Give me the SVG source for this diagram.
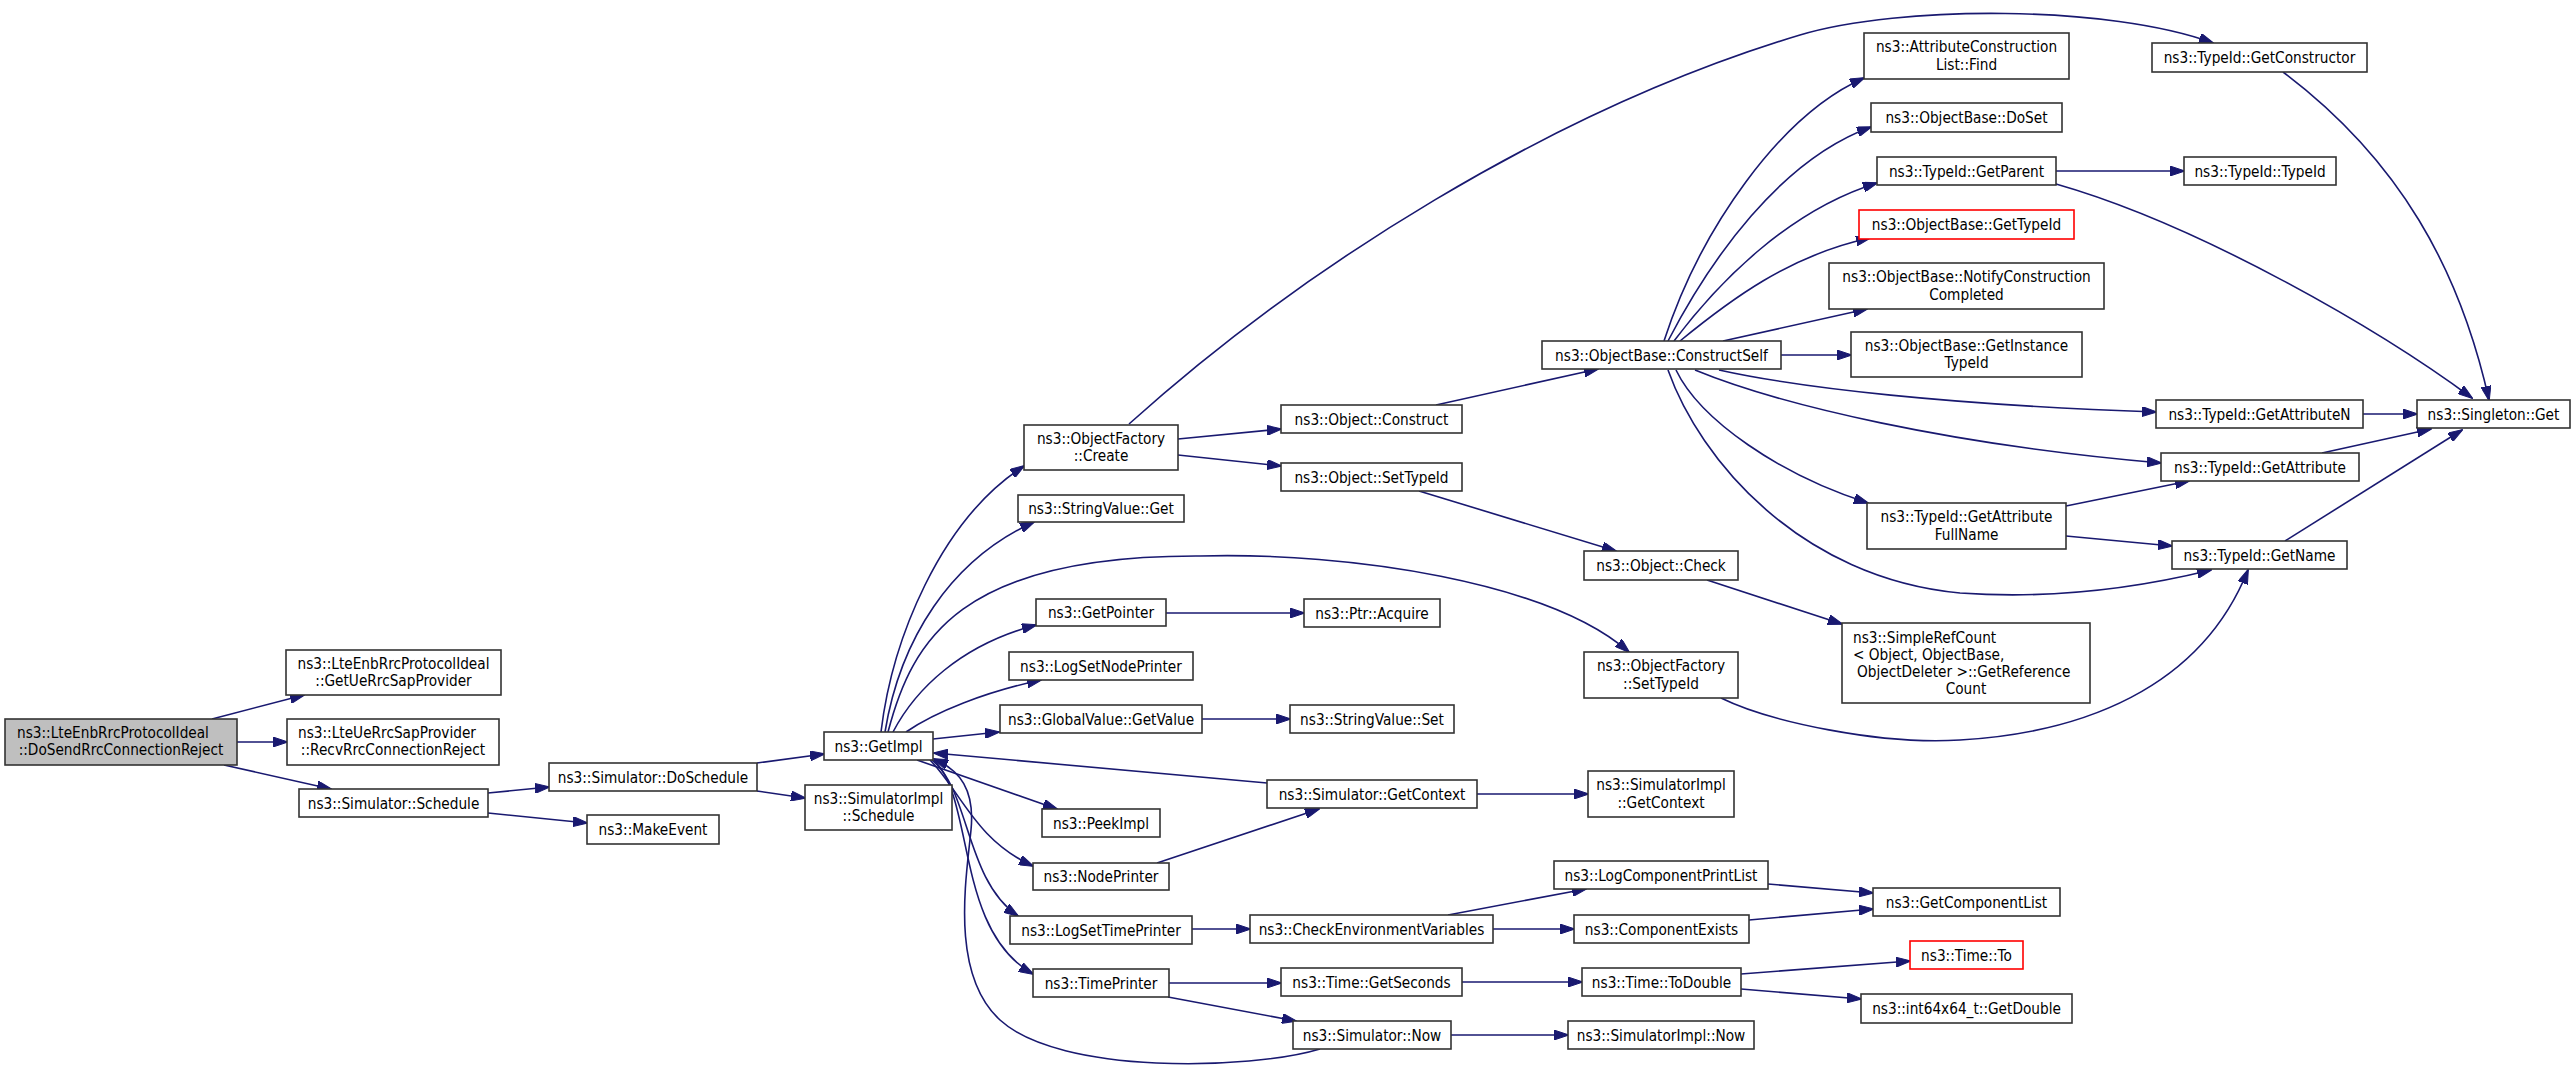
<svg xmlns="http://www.w3.org/2000/svg" width="2576" height="1072" viewBox="0 0 2576 1072">
<style>
.n rect{fill:#fff;stroke:#333;stroke-width:1.6}
.n.r rect{stroke:#f00}
.n.m rect{fill:#bfbfbf}
text{font-family:"DejaVu Sans","Liberation Sans",sans-serif;font-size:16px;fill:#000;text-anchor:middle}
text.s{text-anchor:start}
.e path{fill:none;stroke:#191970;stroke-width:1.6;marker-end:url(#a)}
</style>
<defs>
<marker id="a" viewBox="0 0 15 10" refX="14" refY="5" markerWidth="15" markerHeight="10" markerUnits="userSpaceOnUse" orient="auto">
<path d="M0,0L15,5L0,10z" fill="#191970" stroke="#191970" stroke-width="1"/>
</marker>
</defs>
<rect width="2576" height="1072" fill="#fff"/>
<g id="edges" class="e">
<path d="M212,719L304,695"/>
<path d="M237,742L287,742"/>
<path d="M224,765L331,789"/>
<path d="M488,793L549,787"/>
<path d="M488,813L587,823"/>
<path d="M757,763L824,754"/>
<path d="M757,791L805,798"/>
<path d="M881,732C892,640 940,520 1024,466"/>
<path d="M885,732C900,640 950,560 1034,522"/>
<path d="M888,732C912,640 960,555 1200,556C1350,552 1549,582 1629,652"/>
<path d="M893,732C915,690 960,645 1036,625"/>
<path d="M906,732C935,712 985,692 1041,680"/>
<path d="M933,739L999,732"/>
<path d="M917,760L1057,809"/>
<path d="M930,760C960,790 975,840 1033,866"/>
<path d="M932,760C970,790 965,880 1018,916"/>
<path d="M934,760C975,800 955,930 1033,974"/>
<path d="M1320,1049C1250,1070 1060,1075 1000,1020C950,974 966,880 971,830C975,790 960,770 934,759"/>
<path d="M1267,783L934,753"/>
<path d="M1157,863L1319,809"/>
<path d="M1178,439L1281,429"/>
<path d="M1178,455L1281,466"/>
<path d="M1129,424C1300,270 1550,110 1800,35C1900,5 2110,5 2213,43"/>
<path d="M1166,613L1304,613"/>
<path d="M1202,719L1290,719"/>
<path d="M1192,929L1250,929"/>
<path d="M1168,983L1281,983"/>
<path d="M1168,997L1296,1021"/>
<path d="M1436,405L1598,369"/>
<path d="M1419,491L1616,551"/>
<path d="M1477,794L1588,794"/>
<path d="M1448,915L1586,889"/>
<path d="M1493,929L1574,929"/>
<path d="M1462,982L1582,982"/>
<path d="M1451,1035L1568,1035"/>
<path d="M1768,884L1873,893"/>
<path d="M1749,920L1873,909"/>
<path d="M1741,974L1910,961"/>
<path d="M1741,989L1861,999"/>
<path d="M1707,580L1842,624"/>
<path d="M1721,698C1770,722 1880,745 1960,740C2080,733 2200,690 2248,570"/>
<path d="M1664,341C1700,230 1780,115 1864,78"/>
<path d="M1668,341C1710,260 1780,160 1871,127"/>
<path d="M1674,341C1720,280 1790,210 1877,183"/>
<path d="M1680,341C1730,300 1790,255 1870,238"/>
<path d="M1723,341L1867,309"/>
<path d="M1781,355L1851,355"/>
<path d="M1719,370C1800,388 1950,405 2156,412"/>
<path d="M1695,370C1780,405 1950,445 2161,463"/>
<path d="M1676,370C1700,420 1780,475 1868,503"/>
<path d="M1668,370C1700,460 1800,578 1960,593C2060,600 2150,585 2211,570"/>
<path d="M2056,171L2184,171"/>
<path d="M2056,184C2200,225 2380,330 2472,398"/>
<path d="M2283,72C2400,160 2460,270 2489,400"/>
<path d="M2363,414L2417,414"/>
<path d="M2322,453L2431,429"/>
<path d="M2285,541L2462,430"/>
<path d="M2066,506L2189,481"/>
<path d="M2066,536L2172,546"/>
</g>
<g id="main" class="n m"><rect x="5" y="719" width="232" height="46"/><text class="s" transform="translate(17,738) scale(0.856,1)">ns3::LteEnbRrcProtocolIdeal</text><text transform="translate(121,755) scale(0.856,1)">::DoSendRrcConnectionReject</text></g>
<g id="getUeRrcSapProvider" class="n"><rect x="286" y="650" width="215" height="45"/><text transform="translate(393.5,668.5) scale(0.856,1)">ns3::LteEnbRrcProtocolIdeal</text><text transform="translate(393.5,686) scale(0.856,1)">::GetUeRrcSapProvider</text></g>
<g id="recvRrc" class="n"><rect x="287" y="719" width="212" height="46"/><text class="s" transform="translate(298,738) scale(0.856,1)">ns3::LteUeRrcSapProvider</text><text transform="translate(393,755) scale(0.856,1)">::RecvRrcConnectionReject</text></g>
<g id="schedule" class="n"><rect x="299" y="789" width="189" height="28"/><text transform="translate(393.5,808.5) scale(0.856,1)">ns3::Simulator::Schedule</text></g>
<g id="doSchedule" class="n"><rect x="549" y="763" width="208" height="28"/><text transform="translate(653,782.5) scale(0.856,1)">ns3::Simulator::DoSchedule</text></g>
<g id="makeEvent" class="n"><rect x="587" y="815" width="132" height="29"/><text transform="translate(653,835) scale(0.856,1)">ns3::MakeEvent</text></g>
<g id="getImpl" class="n"><rect x="824" y="732" width="109" height="28"/><text transform="translate(878.5,751.5) scale(0.856,1)">ns3::GetImpl</text></g>
<g id="simImplSchedule" class="n"><rect x="805" y="785" width="147" height="45"/><text transform="translate(878.5,803.5) scale(0.856,1)">ns3::SimulatorImpl</text><text transform="translate(878.5,821) scale(0.856,1)">::Schedule</text></g>
<g id="ofCreate" class="n"><rect x="1024" y="425" width="154" height="45"/><text transform="translate(1101,443.5) scale(0.856,1)">ns3::ObjectFactory</text><text transform="translate(1101,461) scale(0.856,1)">::Create</text></g>
<g id="svGet" class="n"><rect x="1018" y="495" width="166" height="27"/><text transform="translate(1101,514) scale(0.856,1)">ns3::StringValue::Get</text></g>
<g id="getPointer" class="n"><rect x="1036" y="599" width="130" height="27"/><text transform="translate(1101,618) scale(0.856,1)">ns3::GetPointer</text></g>
<g id="logSetNodePrinter" class="n"><rect x="1009" y="652" width="184" height="28"/><text transform="translate(1101,671.5) scale(0.856,1)">ns3::LogSetNodePrinter</text></g>
<g id="gvGetValue" class="n"><rect x="1000" y="705" width="202" height="28"/><text transform="translate(1101,724.5) scale(0.856,1)">ns3::GlobalValue::GetValue</text></g>
<g id="peekImpl" class="n"><rect x="1042" y="809" width="118" height="28"/><text transform="translate(1101,828.5) scale(0.856,1)">ns3::PeekImpl</text></g>
<g id="nodePrinter" class="n"><rect x="1033" y="863" width="136" height="27"/><text transform="translate(1101,882) scale(0.856,1)">ns3::NodePrinter</text></g>
<g id="logSetTimePrinter" class="n"><rect x="1010" y="916" width="182" height="28"/><text transform="translate(1101,935.5) scale(0.856,1)">ns3::LogSetTimePrinter</text></g>
<g id="timePrinter" class="n"><rect x="1033" y="969" width="136" height="28"/><text transform="translate(1101,988.5) scale(0.856,1)">ns3::TimePrinter</text></g>
<g id="objConstruct" class="n"><rect x="1281" y="405" width="181" height="28"/><text transform="translate(1371.5,424.5) scale(0.856,1)">ns3::Object::Construct</text></g>
<g id="objSetTypeId" class="n"><rect x="1281" y="463" width="181" height="28"/><text transform="translate(1371.5,482.5) scale(0.856,1)">ns3::Object::SetTypeId</text></g>
<g id="ptrAcquire" class="n"><rect x="1304" y="599" width="136" height="28"/><text transform="translate(1372,618.5) scale(0.856,1)">ns3::Ptr::Acquire</text></g>
<g id="svSet" class="n"><rect x="1290" y="705" width="164" height="28"/><text transform="translate(1372,724.5) scale(0.856,1)">ns3::StringValue::Set</text></g>
<g id="simGetContext" class="n"><rect x="1267" y="780" width="210" height="28"/><text transform="translate(1372,799.5) scale(0.856,1)">ns3::Simulator::GetContext</text></g>
<g id="checkEnv" class="n"><rect x="1250" y="915" width="243" height="28"/><text transform="translate(1371.5,934.5) scale(0.856,1)">ns3::CheckEnvironmentVariables</text></g>
<g id="getSeconds" class="n"><rect x="1281" y="968" width="181" height="28"/><text transform="translate(1371.5,987.5) scale(0.856,1)">ns3::Time::GetSeconds</text></g>
<g id="simNow" class="n"><rect x="1293" y="1021" width="158" height="28"/><text transform="translate(1372,1040.5) scale(0.856,1)">ns3::Simulator::Now</text></g>
<g id="constructSelf" class="n"><rect x="1542" y="341" width="239" height="28"/><text transform="translate(1661.5,360.5) scale(0.856,1)">ns3::ObjectBase::ConstructSelf</text></g>
<g id="objCheck" class="n"><rect x="1584" y="551" width="154" height="29"/><text transform="translate(1661,571) scale(0.856,1)">ns3::Object::Check</text></g>
<g id="ofSetTypeId" class="n"><rect x="1584" y="652" width="154" height="46"/><text transform="translate(1661,671) scale(0.856,1)">ns3::ObjectFactory</text><text transform="translate(1661,688.5) scale(0.856,1)">::SetTypeId</text></g>
<g id="simImplGetContext" class="n"><rect x="1588" y="771" width="146" height="46"/><text transform="translate(1661,790) scale(0.856,1)">ns3::SimulatorImpl</text><text transform="translate(1661,807.5) scale(0.856,1)">::GetContext</text></g>
<g id="logComponentPrintList" class="n"><rect x="1554" y="861" width="214" height="28"/><text transform="translate(1661,880.5) scale(0.856,1)">ns3::LogComponentPrintList</text></g>
<g id="componentExists" class="n"><rect x="1574" y="915" width="175" height="28"/><text transform="translate(1661.5,934.5) scale(0.856,1)">ns3::ComponentExists</text></g>
<g id="toDouble" class="n"><rect x="1582" y="968" width="159" height="28"/><text transform="translate(1661.5,987.5) scale(0.856,1)">ns3::Time::ToDouble</text></g>
<g id="simImplNow" class="n"><rect x="1568" y="1021" width="186" height="28"/><text transform="translate(1661,1040.5) scale(0.856,1)">ns3::SimulatorImpl::Now</text></g>
<g id="acFind" class="n"><rect x="1864" y="33" width="205" height="46"/><text transform="translate(1966.5,52) scale(0.856,1)">ns3::AttributeConstruction</text><text transform="translate(1966.5,69.5) scale(0.856,1)">List::Find</text></g>
<g id="doSet" class="n"><rect x="1871" y="103" width="191" height="29"/><text transform="translate(1966.5,123) scale(0.856,1)">ns3::ObjectBase::DoSet</text></g>
<g id="getParent" class="n"><rect x="1877" y="157" width="179" height="28"/><text transform="translate(1966.5,176.5) scale(0.856,1)">ns3::TypeId::GetParent</text></g>
<g id="obGetTypeId" class="n r"><rect x="1859" y="210" width="215" height="29"/><text transform="translate(1966.5,230) scale(0.856,1)">ns3::ObjectBase::GetTypeId</text></g>
<g id="notify" class="n"><rect x="1829" y="263" width="275" height="46"/><text transform="translate(1966.5,282) scale(0.856,1)">ns3::ObjectBase::NotifyConstruction</text><text transform="translate(1966.5,299.5) scale(0.856,1)">Completed</text></g>
<g id="getInstanceTypeId" class="n"><rect x="1851" y="332" width="231" height="45"/><text transform="translate(1966.5,350.5) scale(0.856,1)">ns3::ObjectBase::GetInstance</text><text transform="translate(1966.5,368) scale(0.856,1)">TypeId</text></g>
<g id="getAttrFullName" class="n"><rect x="1867" y="503" width="199" height="46"/><text transform="translate(1966.5,522) scale(0.856,1)">ns3::TypeId::GetAttribute</text><text transform="translate(1966.5,539.5) scale(0.856,1)">FullName</text></g>
<g id="simpleRefCount" class="n"><rect x="1842" y="623" width="248" height="80"/><text class="s" transform="translate(1853,642.5) scale(0.856,1)">ns3::SimpleRefCount</text><text class="s" transform="translate(1853,659.8) scale(0.856,1)">&lt; Object, ObjectBase,</text><text class="s" transform="translate(1857,677.1) scale(0.856,1)">ObjectDeleter &gt;::GetReference</text><text transform="translate(1966,694.4) scale(0.856,1)">Count</text></g>
<g id="getComponentList" class="n"><rect x="1873" y="888" width="187" height="28"/><text transform="translate(1966.5,907.5) scale(0.856,1)">ns3::GetComponentList</text></g>
<g id="timeTo" class="n r"><rect x="1910" y="941" width="113" height="28"/><text transform="translate(1966.5,960.5) scale(0.856,1)">ns3::Time::To</text></g>
<g id="getDouble" class="n"><rect x="1861" y="994" width="211" height="29"/><text transform="translate(1966.5,1014) scale(0.856,1)">ns3::int64x64_t::GetDouble</text></g>
<g id="getConstructor" class="n"><rect x="2152" y="43" width="215" height="29"/><text transform="translate(2259.5,63) scale(0.856,1)">ns3::TypeId::GetConstructor</text></g>
<g id="typeIdTypeId" class="n"><rect x="2184" y="157" width="152" height="28"/><text transform="translate(2260,176.5) scale(0.856,1)">ns3::TypeId::TypeId</text></g>
<g id="getAttributeN" class="n"><rect x="2156" y="400" width="207" height="28"/><text transform="translate(2259.5,419.5) scale(0.856,1)">ns3::TypeId::GetAttributeN</text></g>
<g id="singletonGet" class="n"><rect x="2417" y="400" width="153" height="28"/><text transform="translate(2493.5,419.5) scale(0.856,1)">ns3::Singleton::Get</text></g>
<g id="getAttribute" class="n"><rect x="2161" y="453" width="198" height="28"/><text transform="translate(2260,472.5) scale(0.856,1)">ns3::TypeId::GetAttribute</text></g>
<g id="getName" class="n"><rect x="2172" y="541" width="175" height="28"/><text transform="translate(2259.5,560.5) scale(0.856,1)">ns3::TypeId::GetName</text></g>
</svg>
